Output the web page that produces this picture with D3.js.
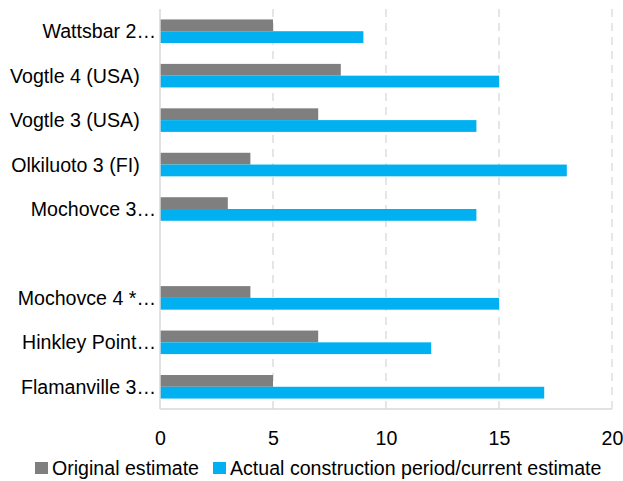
<!DOCTYPE html>
<html>
<head>
<meta charset="utf-8">
<script src="https://cdn.jsdelivr.net/npm/d3@7"></script>
<style>
  html, body { margin: 0; padding: 0; background: #fff; }
  svg text { font-family: "Liberation Sans", Arial, sans-serif; fill: #000; white-space: pre; }
</style>
</head>
<body>
<svg id="chart" width="623" height="481"></svg>
<script>
// Reactor projects, top to bottom; the blank entry is a spacer row
const projects = ["Wattsbar 2…", "Vogtle 4 (USA)   ", "Vogtle 3 (USA)   ", "Olkiluoto 3 (FI)   ", "Mochovce 3…", "", "Mochovce 4 *…", "Hinkley Point…", "Flamanville 3…"];
// Construction period in years
const originalEstimate = [5, 8, 7, 4, 3, null, 4, 7, 5];
const actualPeriod = [9, 15, 14, 18, 14, null, 15, 12, 17];
const seriesNames = ["Original estimate", "Actual construction period/current estimate"];
const seriesColors = ["#7f7f7f", "#00b0f0"];
const xTicks = [0, 5, 10, 15, 20];

const svg = d3.select("#chart");
const plotLeft = 160, plotRight = 612, plotTop = 9, plotBottom = 409;
const fontSize = 19.6;

const x = d3.scaleLinear().domain([0, 20]).range([plotLeft, plotRight]);
const y = d3.scaleBand()
  .domain(d3.range(projects.length))
  .range([plotTop, plotBottom])
  .paddingInner(0.47)
  .paddingOuter(0.235);
const ySeries = d3.scaleBand().domain([0, 1]).range([0, y.bandwidth()]);

// Vertical gridlines
svg.append("g").selectAll("line")
  .data(xTicks.filter(t => t > 0))
  .join("line")
  .attr("x1", d => x(d)).attr("x2", d => x(d))
  .attr("y1", plotTop).attr("y2", plotBottom)
  .attr("stroke", "#d9d9d9")
  .attr("stroke-width", 1.3)
  .attr("stroke-dasharray", "8,6");

// Bars
const rows = projects.map((p, i) => ({ i, vals: [originalEstimate[i], actualPeriod[i]] }));
const groups = svg.append("g").selectAll("g")
  .data(rows)
  .join("g")
  .attr("transform", d => `translate(0,${y(d.i)})`);
groups.selectAll("rect")
  .data(d => d.vals.map((v, s) => ({ v, s })).filter(e => e.v != null))
  .join("rect")
  .attr("x", x(0))
  .attr("y", d => ySeries(d.s))
  .attr("width", d => x(d.v) - x(0))
  .attr("height", ySeries.bandwidth())
  .attr("fill", d => seriesColors[d.s]);

// Axis lines
svg.append("line")
  .attr("x1", plotLeft).attr("x2", plotLeft).attr("y1", plotTop).attr("y2", plotBottom)
  .attr("stroke", "#d9d9d9").attr("stroke-width", 1.5);
svg.append("line")
  .attr("x1", plotLeft).attr("x2", plotRight).attr("y1", plotBottom).attr("y2", plotBottom)
  .attr("stroke", "#d9d9d9").attr("stroke-width", 1.5);

// Category labels
const yAxis = d3.axisLeft(y).tickSize(0).tickPadding(4).tickFormat(i => projects[i]);
const gy = svg.append("g").attr("transform", `translate(${plotLeft},0)`).call(yAxis);
gy.select(".domain").remove();
gy.selectAll("text").attr("font-size", fontSize).attr("dy", "0.36em");

// Value labels
const xAxis = d3.axisBottom(x).tickValues(xTicks).tickSize(0).tickPadding(0);
const gx = svg.append("g").attr("transform", `translate(0,${plotBottom})`).call(xAxis);
gx.select(".domain").remove();
gx.selectAll("text").attr("font-size", fontSize).attr("y", 36).attr("dy", 0);

// Legend
const legend = svg.append("g").attr("transform", "translate(35,462)");
const legendX = [0, 178];
seriesNames.forEach((name, s) => {
  const g = legend.append("g").attr("transform", `translate(${legendX[s]},0)`);
  g.append("rect").attr("width", 13).attr("height", 12).attr("fill", seriesColors[s]);
  g.append("text").attr("x", 17).attr("y", 13).attr("font-size", fontSize).text(name);
});
</script>
</body>
</html>
